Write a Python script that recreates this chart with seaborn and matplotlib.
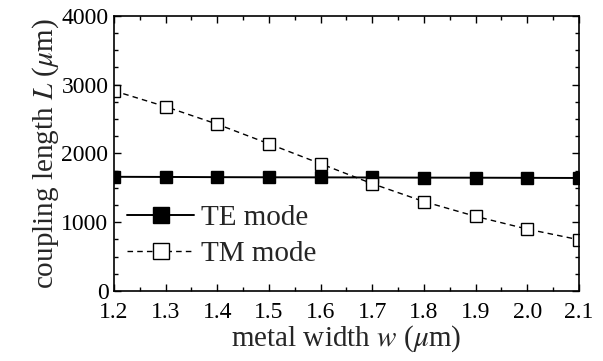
import numpy as np
import pandas as pd
import matplotlib
matplotlib.use("Agg")
import matplotlib.pyplot as plt
from matplotlib.ticker import MultipleLocator
import seaborn as sns

# metal width w (um)
width = [1.2, 1.3, 1.4, 1.5, 1.6, 1.7, 1.8, 1.9, 2.0, 2.1]
# coupling length L (um)
te_len = [1660, 1658, 1655, 1653, 1652, 1650, 1648, 1647, 1645, 1643]
tm_len = [2910, 2680, 2425, 2140, 1850, 1560, 1300, 1085, 900, 745]

df = pd.concat([
    pd.DataFrame({"w": width, "L": te_len, "mode": "TE mode"}),
    pd.DataFrame({"w": width, "L": tm_len, "mode": "TM mode"}),
])

sns.set_style("ticks")
plt.rcParams["font.family"] = ["Liberation Serif", "DejaVu Serif"]
plt.rcParams["mathtext.fontset"] = "stix"

fig = plt.figure(figsize=(6.03, 3.61), dpi=100)
ax = fig.add_axes([0.189, 0.194, 0.771, 0.762])

sns.lineplot(data=df[df["mode"] == "TE mode"], x="w", y="L", ax=ax,
             color="black", lw=1.4, marker="s", markersize=8,
             markerfacecolor="black", markeredgecolor="black",
             markeredgewidth=1.0, label="TE mode")
sns.lineplot(data=df[df["mode"] == "TM mode"], x="w", y="L", ax=ax,
             color="black", lw=1.0, linestyle=(0, (4, 3)), marker="s",
             markersize=8, markerfacecolor="white", markeredgecolor="black",
             markeredgewidth=1.0, label="TM mode")

ax.set_xlim(1.2, 2.1)
ax.set_ylim(0, 4000)
ax.xaxis.set_major_locator(MultipleLocator(0.1))
ax.xaxis.set_minor_locator(MultipleLocator(0.05))
ax.yaxis.set_major_locator(MultipleLocator(1000))
ax.yaxis.set_minor_locator(MultipleLocator(250))
ax.xaxis.set_major_formatter(plt.FuncFormatter(lambda v, p: f"{v:.1f}"))
ax.tick_params(which="both", direction="in", top=True, right=True,
               labelsize=17, width=1.0, colors="black")
ax.tick_params(which="major", length=5)
ax.tick_params(which="minor", length=3)
ax.tick_params(axis="x", pad=8)
ax.tick_params(axis="y", pad=4)
for s in ax.spines.values():
    s.set_linewidth(1.2)
    s.set_color("black")

ax.set_xlabel(r"metal width $w$ ($\mu$m)", fontsize=21, labelpad=0)
ax.set_ylabel(r"coupling length $L$ ($\mu$m)", fontsize=21, labelpad=0)

ax.legend(loc="center left", bbox_to_anchor=(0.028, 0.2), frameon=False,
          fontsize=21, handlelength=2.3, handletextpad=0.25,
          labelspacing=0.33, borderaxespad=0, borderpad=0, markerscale=1.4)

fig.savefig("out.png", dpi=100)
